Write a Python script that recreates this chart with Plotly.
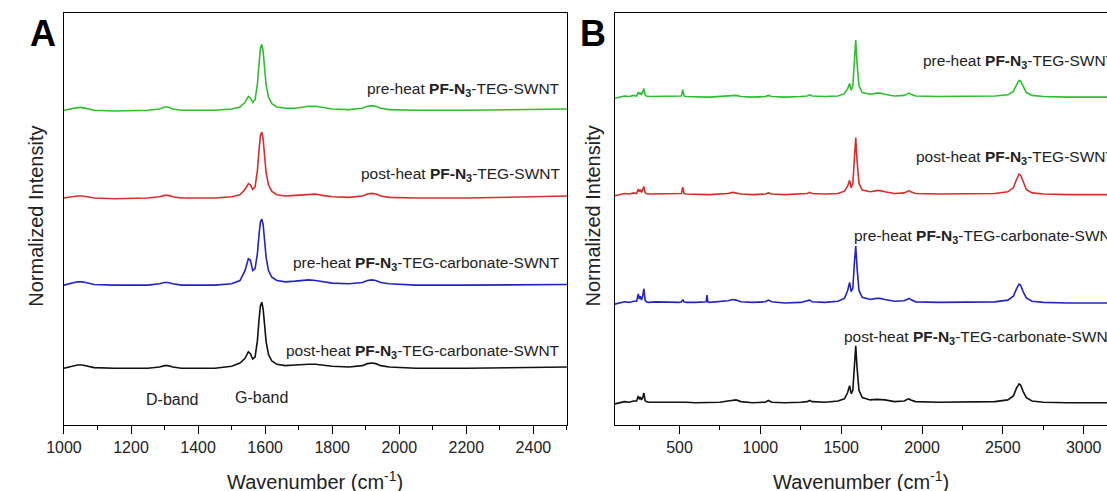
import plotly.graph_objects as go

# ---------------- data ----------------
A_WAVENUMBER = [1000, 1020, 1040, 1055, 1070, 1090, 1150, 1250, 1285, 1300, 1310, 1325, 1350,
                1450, 1500, 1525, 1540, 1550, 1556, 1563, 1570, 1577, 1582, 1586, 1590,
                1594, 1598, 1603, 1610, 1620, 1635, 1660, 1690, 1710, 1730,
                1750, 1770, 1800, 1850, 1890, 1905, 1918, 1930, 1945, 1970,
                2050, 2200, 2350, 2500]

A_PRE_TEG = [0.00, 0.02, 0.04, 0.04, 0.02, 0.00, -0.01, 0.00, 0.02, 0.05, 0.05, 0.02, 0.00,
             0.00, 0.02, 0.05, 0.12, 0.21, 0.19, 0.12, 0.16, 0.40, 0.72, 0.94, 1.00,
             0.90, 0.66, 0.38, 0.20, 0.10, 0.05, 0.03, 0.03, 0.05, 0.06,
             0.06, 0.04, 0.02, 0.01, 0.03, 0.06, 0.07, 0.06, 0.03, 0.01,
             0.00, 0.00, 0.01, 0.02]
A_POST_TEG = [0.00, 0.02, 0.03, 0.03, 0.02, 0.00, -0.01, 0.00, 0.02, 0.04, 0.04, 0.02, 0.00,
              0.00, 0.02, 0.05, 0.13, 0.22, 0.20, 0.13, 0.17, 0.42, 0.74, 0.95, 1.00,
              0.90, 0.66, 0.38, 0.20, 0.10, 0.05, 0.03, 0.04, 0.05, 0.06,
              0.06, 0.04, 0.02, 0.01, 0.03, 0.06, 0.07, 0.06, 0.03, 0.01,
              0.00, 0.00, 0.01, 0.03]
A_PRE_CARB = [0.00, 0.03, 0.05, 0.05, 0.03, 0.01, 0.00, 0.00, 0.02, 0.04, 0.04, 0.02, 0.00,
              0.00, 0.02, 0.07, 0.22, 0.40, 0.38, 0.22, 0.25, 0.48, 0.78, 0.96, 1.00,
              0.92, 0.70, 0.42, 0.22, 0.12, 0.07, 0.05, 0.06, 0.07, 0.08,
              0.07, 0.05, 0.03, 0.02, 0.04, 0.07, 0.08, 0.07, 0.04, 0.02,
              0.00, 0.00, 0.00, 0.01]
A_POST_CARB = [0.00, 0.03, 0.05, 0.05, 0.03, 0.01, 0.00, 0.00, 0.02, 0.04, 0.04, 0.02, 0.00,
               0.00, 0.03, 0.08, 0.15, 0.25, 0.22, 0.14, 0.17, 0.42, 0.75, 0.95, 1.00,
               0.90, 0.68, 0.40, 0.21, 0.11, 0.06, 0.04, 0.05, 0.06, 0.06,
               0.06, 0.05, 0.03, 0.02, 0.04, 0.07, 0.08, 0.07, 0.04, 0.02,
               0.00, 0.00, 0.01, 0.02]

B_WAVENUMBER = [100, 130, 160, 190, 215, 235, 245, 252, 258, 265,
                272, 280, 287, 295, 310, 350, 420, 500, 512, 520,
                528, 540, 600, 655, 665, 670, 675, 685, 750, 800,
                830, 850, 880, 950, 1030, 1050, 1070, 1150, 1250, 1290,
                1305, 1320, 1400, 1480, 1520, 1540, 1552, 1562, 1572, 1582,
                1590, 1598, 1610, 1630, 1680, 1720, 1740, 1770, 1830, 1890,
                1910, 1920, 1930, 1960, 2100, 2300, 2450, 2530, 2565, 2585,
                2600, 2610, 2625, 2645, 2680, 2750, 2900, 3144]

B_PRE_TEG = [-0.02, 0.00, 0.02, 0.01, 0.03, 0.02, 0.09, 0.05, 0.08, 0.04,
             0.08, 0.15, 0.04, 0.02, 0.01, 0.01, 0.01, 0.01, 0.02, 0.13,
             0.02, 0.01, 0.00, 0.00, 0.00, 0.00, 0.00, 0.00, 0.01, 0.02,
             0.03, 0.03, 0.01, 0.00, 0.01, 0.03, 0.01, 0.00, 0.01, 0.02,
             0.04, 0.02, 0.01, 0.02, 0.06, 0.15, 0.24, 0.12, 0.20, 0.70,
             1.00, 0.60, 0.20, 0.08, 0.05, 0.07, 0.07, 0.05, 0.02, 0.03,
             0.06, 0.07, 0.05, 0.02, 0.01, 0.01, 0.02, 0.04, 0.10, 0.22,
             0.29, 0.28, 0.18, 0.08, 0.03, 0.01, 0.00, 0.00]
B_POST_TEG = [-0.02, 0.00, 0.02, 0.01, 0.03, 0.02, 0.10, 0.05, 0.09, 0.04,
              0.08, 0.14, 0.04, 0.02, 0.01, 0.01, 0.01, 0.01, 0.02, 0.13,
              0.02, 0.01, 0.00, 0.00, 0.00, 0.00, 0.00, 0.00, 0.01, 0.02,
              0.04, 0.03, 0.01, 0.00, 0.01, 0.03, 0.01, 0.00, 0.01, 0.02,
              0.04, 0.02, 0.01, 0.02, 0.06, 0.15, 0.25, 0.12, 0.20, 0.70,
              1.00, 0.60, 0.20, 0.08, 0.05, 0.07, 0.07, 0.05, 0.02, 0.03,
              0.06, 0.07, 0.05, 0.02, 0.01, 0.01, 0.02, 0.05, 0.12, 0.27,
              0.36, 0.34, 0.22, 0.09, 0.03, 0.01, 0.00, 0.00]
B_PRE_CARB = [-0.02, 0.00, 0.02, 0.01, 0.03, 0.03, 0.16, 0.07, 0.12, 0.05,
              0.12, 0.25, 0.05, 0.02, 0.01, 0.02, 0.01, 0.01, 0.02, 0.06,
              0.02, 0.01, 0.01, 0.01, 0.02, 0.14, 0.02, 0.01, 0.02, 0.04,
              0.06, 0.05, 0.02, 0.01, 0.02, 0.05, 0.02, 0.00, 0.01, 0.03,
              0.05, 0.02, 0.01, 0.03, 0.08, 0.22, 0.36, 0.20, 0.26, 0.72,
              1.00, 0.62, 0.22, 0.10, 0.06, 0.08, 0.08, 0.06, 0.03, 0.04,
              0.07, 0.08, 0.06, 0.02, 0.01, 0.01, 0.02, 0.05, 0.12, 0.25,
              0.33, 0.31, 0.20, 0.09, 0.03, 0.01, 0.00, 0.00]
B_POST_CARB = [-0.02, 0.00, 0.02, 0.01, 0.03, 0.03, 0.12, 0.06, 0.10, 0.05,
               0.09, 0.17, 0.04, 0.02, 0.01, 0.01, 0.01, 0.01, 0.01, 0.02,
               0.01, 0.01, 0.00, 0.00, 0.00, 0.01, 0.00, 0.00, 0.01, 0.03,
               0.05, 0.05, 0.02, 0.00, 0.01, 0.04, 0.01, 0.00, 0.01, 0.02,
               0.04, 0.02, 0.01, 0.03, 0.07, 0.18, 0.30, 0.16, 0.22, 0.72,
               1.00, 0.62, 0.22, 0.09, 0.05, 0.06, 0.06, 0.05, 0.02, 0.03,
               0.06, 0.07, 0.05, 0.02, 0.01, 0.01, 0.02, 0.05, 0.12, 0.26,
               0.33, 0.31, 0.20, 0.09, 0.03, 0.01, 0.00, 0.00]

SERIES_NAMES = ["pre-heat PF-N3-TEG-SWNT", "post-heat PF-N3-TEG-SWNT",
                "pre-heat PF-N3-TEG-carbonate-SWNT", "post-heat PF-N3-TEG-carbonate-SWNT"]
SERIES_LABELS = ["pre-heat <b>PF-N<sub>3</sub></b>-TEG-SWNT",
                 "post-heat <b>PF-N<sub>3</sub></b>-TEG-SWNT",
                 "pre-heat <b>PF-N<sub>3</sub></b>-TEG-carbonate-SWNT",
                 "post-heat <b>PF-N<sub>3</sub></b>-TEG-carbonate-SWNT"]
A_SPECTRA = [A_PRE_TEG, A_POST_TEG, A_PRE_CARB, A_POST_CARB]
B_SPECTRA = [B_PRE_TEG, B_POST_TEG, B_PRE_CARB, B_POST_CARB]

# ---------------- styling / placement ----------------
COLORS = ["#2dbf2d", "#dc2b2b", "#2323c4", "#111111"]
A_OFFSETS = [4.77, 3.44, 2.12, 0.86]
B_OFFSETS = [5.75, 4.04, 2.14, 0.39]
A_YRANGE = [0, 6.24]
B_YRANGE = [0, 7.22]
FONT = "Liberation Sans, Arial, sans-serif"
LABEL_SIZE = 15.5

fig = go.Figure()
for i in range(4):
    fig.add_trace(go.Scatter(x=A_WAVENUMBER, y=[v + A_OFFSETS[i] for v in A_SPECTRA[i]],
                             mode="lines", line=dict(color=COLORS[i], width=1.6),
                             name=SERIES_NAMES[i], xaxis="x", yaxis="y", showlegend=False))
    fig.add_trace(go.Scatter(x=B_WAVENUMBER, y=[v + B_OFFSETS[i] for v in B_SPECTRA[i]],
                             mode="lines", line=dict(color=COLORS[i], width=1.6),
                             name=SERIES_NAMES[i], xaxis="x2", yaxis="y2", showlegend=False))

ydom = [66 / 491, 477.7 / 491]
axis_common = dict(showline=True, linecolor="black", linewidth=1.4, showgrid=False,
                   zeroline=False, tickfont=dict(family=FONT, size=16, color="#222"))
fig.update_layout(
    width=1107, height=491, margin=dict(l=0, r=0, t=0, b=0),
    paper_bgcolor="white", plot_bgcolor="white",
    xaxis=dict(domain=[46.7 / 1107, 558 / 1107], range=[1000, 2500], mirror=True,
               ticks="outside", ticklen=8, tickwidth=1.3, tickcolor="black", dtick=200, tick0=1000,
               minor=dict(ticks="outside", ticklen=4, dtick=100, tick0=1000, tickcolor="black", tickwidth=1.3),
               anchor="y", **axis_common),
    yaxis=dict(domain=ydom, range=A_YRANGE, mirror=True, showticklabels=False, ticks="",
               anchor="x", **axis_common),
    xaxis2=dict(domain=[606.7 / 1107, 1.0], range=[100, 3144], mirror=True,
                ticks="outside", ticklen=8, tickwidth=1.3, tickcolor="black", dtick=500, tick0=0,
                minor=dict(ticks="outside", ticklen=4, dtick=250, tick0=0, tickcolor="black", tickwidth=1.3),
                anchor="y2", **axis_common),
    yaxis2=dict(domain=ydom, range=B_YRANGE, mirror=False, showticklabels=False, ticks="",
                anchor="x2", **axis_common),
)

ann = []
# series labels panel A (right aligned)
A_LABEL_Y = [5.08, 3.79, 2.45, 1.11]
for i in range(4):
    ann.append(dict(x=2485, y=A_LABEL_Y[i], xref="x", yref="y", text=SERIES_LABELS[i],
                    showarrow=False, xanchor="right", yanchor="middle",
                    font=dict(family=FONT, size=LABEL_SIZE, color="#222")))
# series labels panel B (left aligned, cut by the page edge)
B_LABEL_X = [1995, 1951, 1568, 1507]
B_LABEL_Y = [6.37, 4.70, 3.30, 1.54]
for i in range(4):
    ann.append(dict(x=B_LABEL_X[i], y=B_LABEL_Y[i], xref="x2", yref="y2", text=SERIES_LABELS[i],
                    showarrow=False, xanchor="left", yanchor="middle",
                    font=dict(family=FONT, size=LABEL_SIZE, color="#222")))
# band labels
ann.append(dict(x=1323, y=0.38, xref="x", yref="y", text="D-band", showarrow=False,
                font=dict(family=FONT, size=16, color="#222")))
ann.append(dict(x=1588, y=0.41, xref="x", yref="y", text="G-band", showarrow=False,
                font=dict(family=FONT, size=16, color="#222")))
# axis titles
for xr in ["x domain", "x2 domain"]:
    ann.append(dict(x=0.5, y=11 / 491, xref=xr, yref="paper", text="Wavenumber (cm<sup>-1</sup>)",
                    showarrow=False, xanchor="center", yanchor="middle",
                    font=dict(family=FONT, size=20, color="#222")))
for xp in [18, 585]:
    ann.append(dict(x=xp / 1107, y=(491 - 216) / 491, xref="paper", yref="paper",
                    text="Normalized Intensity", textangle=-90, showarrow=False,
                    xanchor="center", yanchor="middle",
                    font=dict(family=FONT, size=20, color="#222")))
# panel letters
ann.append(dict(x=25 / 1107, y=(491 - 34) / 491, xref="paper", yref="paper", text="<b>A</b>",
                showarrow=False, xanchor="center", yanchor="middle",
                font=dict(family=FONT, size=36, color="black")))
ann.append(dict(x=585 / 1107, y=(491 - 34) / 491, xref="paper", yref="paper", text="<b>B</b>",
                showarrow=False, xanchor="center", yanchor="middle",
                font=dict(family=FONT, size=36, color="black")))
fig.update_layout(annotations=ann)

fig.write_html("out.html", config={"displayModeBar": False},
               post_script="document.body.style.margin='0px';document.body.style.overflow='hidden';")
